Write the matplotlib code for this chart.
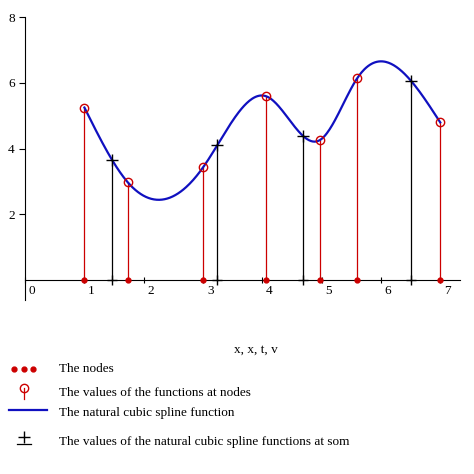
import numpy as np
import matplotlib
matplotlib.use("Agg")
import matplotlib.pyplot as plt
from matplotlib.lines import Line2D

node_x = [1.0, 1.73, 3.0, 4.07, 4.97, 5.6, 7.0]
node_y = [5.25, 2.98, 3.43, 5.59, 4.26, 6.14, 4.8]
t_x = [1.47, 3.24, 4.68, 6.51]

def natural_spline(xs, ys):
    xs = np.asarray(xs); ys = np.asarray(ys); n = len(xs)
    h = np.diff(xs)
    A = np.zeros((n, n)); b = np.zeros(n)
    A[0, 0] = A[-1, -1] = 1
    for i in range(1, n - 1):
        A[i, i-1] = h[i-1]; A[i, i] = 2*(h[i-1]+h[i]); A[i, i+1] = h[i]
        b[i] = 6*((ys[i+1]-ys[i])/h[i] - (ys[i]-ys[i-1])/h[i-1])
    M = np.linalg.solve(A, b)
    def f(x):
        x = np.atleast_1d(x)
        i = np.clip(np.searchsorted(xs, x) - 1, 0, n - 2)
        hi = h[i]; a = xs[i+1]-x; c = x-xs[i]
        return (M[i]*a**3 + M[i+1]*c**3)/(6*hi) + (ys[i]/hi - M[i]*hi/6)*a + (ys[i+1]/hi - M[i+1]*hi/6)*c
    return f

f = natural_spline(node_x, node_y)
xx = np.linspace(node_x[0], node_x[-1], 400)
t_y = f(np.array(t_x))

plt.rcParams['font.family'] = ['Liberation Serif', 'DejaVu Serif']
fig = plt.figure(figsize=(4.74, 4.74), dpi=100)
ax = fig.add_axes([0.053, 0.367, 0.917, 0.597])
ax.set_xlim(0, 7.33)
ax.set_ylim(-0.6, 8)
for s in ['top', 'right']:
    ax.spines[s].set_visible(False)
ax.spines['bottom'].set_position(('data', 0))
ax.spines['bottom'].set_bounds(0, 7.33)
ax.plot(xx, f(xx), color='#1010c0', lw=1.6, zorder=3)
ax.vlines(node_x, 0, node_y, color='#cc0000', lw=0.9)
ax.vlines(t_x, 0, t_y, color='black', lw=0.9)
ax.plot(node_x, node_y, 'o', mfc='none', mec='#cc0000', ms=6, mew=1, zorder=4)
ax.plot(t_x, t_y, '+', color='black', ms=9, mew=1, zorder=4)
ax.plot(node_x, [0]*len(node_x), 'o', color='#cc0000', ms=3.5, zorder=5)
ax.plot(t_x, [0]*len(t_x), '+', color='black', ms=7, zorder=5)
ax.set_xticks(range(8))
ax.set_xticklabels([])
for i in range(8):
    ax.text(i + 0.12, -0.15, str(i), ha='center', va='top', fontsize=9.5)
ax.set_yticks([2, 4, 6, 8])
ax.tick_params(axis='y', labelsize=9.5, length=4)
ax.tick_params(axis='x', length=4, direction='inout')

fig.text(0.54, 0.255, 'x, x, t, v', ha='center', fontsize=9.5)
items = [
    ('dots', 'The nodes', 0.222),
    ('circ', 'The values of the functions at nodes', 0.17),
    ('line', 'The natural cubic spline function', 0.128),
    ('plus', 'The values of the natural cubic spline functions at som', 0.068),
]
for kind, txt, y in items:
    if kind == 'dots':
        fig.add_artist(Line2D([0.03, 0.05, 0.07], [y, y, y], ls='none', marker='o', color='#cc0000', ms=3.5))
    elif kind == 'circ':
        fig.add_artist(Line2D([0.05], [y + 0.012], ls='none', marker='o', mfc='none', mec='#cc0000', ms=6))
        fig.add_artist(Line2D([0.05, 0.05], [y - 0.012, y + 0.012], color='#cc0000', lw=0.9))
    elif kind == 'line':
        fig.add_artist(Line2D([0.02, 0.1], [y + 0.008, y + 0.008], color='#1010c0', lw=1.6))
    else:
        fig.add_artist(Line2D([0.05], [y + 0.01], ls='none', marker='+', color='black', ms=9))
        fig.add_artist(Line2D([0.035, 0.065], [y - 0.005, y - 0.005], color='black', lw=0.9))
    fig.text(0.125, y, txt, fontsize=9.5, va='center')

fig.savefig('out.png', dpi=100)
